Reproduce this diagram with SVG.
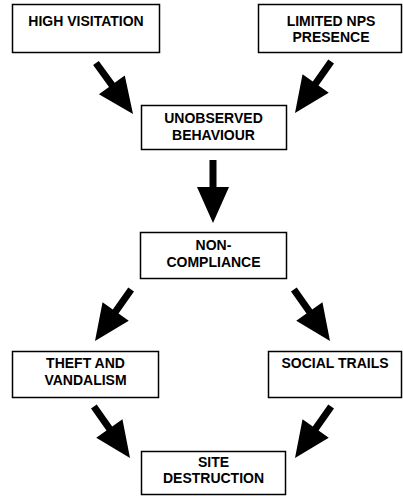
<svg xmlns="http://www.w3.org/2000/svg" xmlns:xlink="http://www.w3.org/1999/xlink" width="403" height="496" viewBox="0 0 403 496">
<style>
.box{fill:#fff;stroke:#000;stroke-width:1.5}
.t{font-family:"Liberation Sans",Arial,sans-serif;font-weight:bold;font-size:14px;text-anchor:middle;fill:#000}
.arr{fill:#000}
</style>
<defs>
<polygon id="arrow" points="-3.5,-63 3.5,-63 3.5,-36 16,-36 0,0 -16,-36 -3.5,-36"/>
</defs>
<rect width="403" height="496" fill="#fff"/>
<g id="connectors" class="arr">
<use xlink:href="#arrow" transform="translate(133,114) rotate(-36)"/>
<use xlink:href="#arrow" transform="translate(295,113) rotate(35)"/>
<use xlink:href="#arrow" transform="translate(213,223)"/>
<use xlink:href="#arrow" transform="translate(95,341) rotate(35)"/>
<use xlink:href="#arrow" transform="translate(330,341) rotate(-35)"/>
<use xlink:href="#arrow" transform="translate(130,458) rotate(-35)"/>
<use xlink:href="#arrow" transform="translate(295,458) rotate(35)"/>
</g>
<g id="high-visitation">
<rect class="box" x="12.5" y="4.5" width="147" height="48"/>
<text class="t" x="86" y="26">HIGH VISITATION</text>
</g>
<g id="limited-nps-presence">
<rect class="box" x="258.5" y="4.5" width="143" height="48"/>
<text class="t" x="331" y="26">LIMITED NPS</text>
<text class="t" x="331" y="42">PRESENCE</text>
</g>
<g id="unobserved-behaviour">
<rect class="box" x="141.5" y="105.5" width="145" height="44"/>
<text class="t" x="213.5" y="123">UNOBSERVED</text>
<text class="t" x="213.5" y="140">BEHAVIOUR</text>
</g>
<g id="non-compliance">
<rect class="box" x="140.5" y="232.5" width="146" height="46"/>
<text class="t" x="213.5" y="250">NON-</text>
<text class="t" x="213.5" y="266.5">COMPLIANCE</text>
</g>
<g id="theft-and-vandalism">
<rect class="box" x="12.5" y="351.5" width="146" height="46"/>
<text class="t" x="85.5" y="368">THEFT AND</text>
<text class="t" x="85.5" y="385">VANDALISM</text>
</g>
<g id="social-trails">
<rect class="box" x="268.5" y="351.5" width="133" height="46"/>
<text class="t" x="335" y="368">SOCIAL TRAILS</text>
</g>
<g id="site-destruction">
<rect class="box" x="141.5" y="451.5" width="144" height="43"/>
<text class="t" x="213.5" y="467">SITE</text>
<text class="t" x="213.5" y="483">DESTRUCTION</text>
</g>
</svg>
